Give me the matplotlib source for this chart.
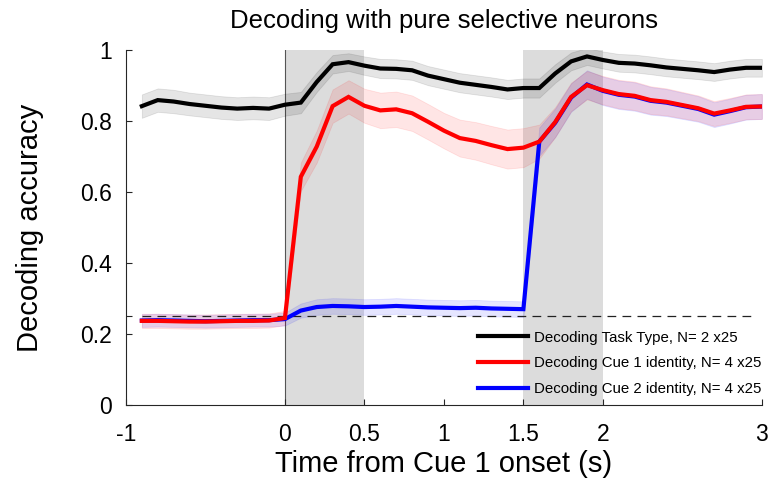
import matplotlib
matplotlib.use("Agg")
import matplotlib.pyplot as plt
import numpy as np

plt.rcParams['font.family'] = ['Liberation Sans', 'DejaVu Sans']

time_s = [-0.9, -0.8, -0.7, -0.6, -0.5, -0.4, -0.3, -0.2, -0.1, 0.0,
          0.1, 0.2, 0.3, 0.4, 0.5, 0.6, 0.7, 0.8, 0.9, 1.0,
          1.1, 1.2, 1.3, 1.4, 1.5, 1.6, 1.7, 1.8, 1.9, 2.0,
          2.1, 2.2, 2.3, 2.4, 2.5, 2.6, 2.7, 2.8, 2.9, 3.0]

task_type = [0.842, 0.859, 0.855, 0.848, 0.843, 0.838, 0.835, 0.837, 0.835, 0.846,
             0.852, 0.910, 0.960, 0.966, 0.956, 0.948, 0.947, 0.943, 0.928, 0.918,
             0.908, 0.902, 0.896, 0.889, 0.893, 0.893, 0.934, 0.968, 0.982, 0.972,
             0.964, 0.962, 0.957, 0.951, 0.947, 0.943, 0.938, 0.945, 0.950, 0.950]
task_sem = [0.033, 0.033, 0.033, 0.032, 0.032, 0.032, 0.032, 0.032, 0.032, 0.031,
            0.030, 0.028, 0.026, 0.025, 0.026, 0.027, 0.027, 0.027, 0.027, 0.027,
            0.027, 0.027, 0.027, 0.027, 0.027, 0.027, 0.026, 0.025, 0.024, 0.024,
            0.025, 0.025, 0.025, 0.025, 0.025, 0.025, 0.025, 0.025, 0.025, 0.025]

cue1 = [0.237, 0.237, 0.236, 0.235, 0.235, 0.236, 0.237, 0.237, 0.238, 0.245,
        0.643, 0.728, 0.842, 0.868, 0.843, 0.830, 0.833, 0.822, 0.798, 0.773,
        0.752, 0.744, 0.732, 0.721, 0.725, 0.742, 0.797, 0.868, 0.901, 0.887,
        0.876, 0.871, 0.859, 0.854, 0.845, 0.836, 0.821, 0.830, 0.840, 0.841]
cue1_sem = [0.020, 0.020, 0.020, 0.020, 0.020, 0.020, 0.020, 0.020, 0.020, 0.020,
            0.040, 0.045, 0.047, 0.047, 0.048, 0.050, 0.050, 0.050, 0.050, 0.050,
            0.052, 0.053, 0.054, 0.055, 0.055, 0.048, 0.042, 0.040, 0.040, 0.040,
            0.040, 0.040, 0.039, 0.038, 0.037, 0.036, 0.035, 0.035, 0.035, 0.035]

cue2 = [0.238, 0.239, 0.238, 0.237, 0.236, 0.237, 0.238, 0.239, 0.239, 0.242,
        0.266, 0.276, 0.279, 0.278, 0.276, 0.277, 0.279, 0.277, 0.275, 0.274,
        0.273, 0.274, 0.272, 0.271, 0.270, 0.742, 0.795, 0.866, 0.903, 0.885,
        0.874, 0.869, 0.857, 0.852, 0.843, 0.834, 0.818, 0.828, 0.839, 0.841]
cue2_sem = [0.018, 0.018, 0.018, 0.018, 0.018, 0.018, 0.018, 0.018, 0.018, 0.018,
            0.020, 0.022, 0.022, 0.022, 0.022, 0.022, 0.022, 0.022, 0.022, 0.022,
            0.022, 0.022, 0.022, 0.022, 0.022, 0.040, 0.040, 0.040, 0.040, 0.040,
            0.040, 0.040, 0.039, 0.038, 0.037, 0.036, 0.035, 0.035, 0.035, 0.035]

labels = ["Decoding Task Type, N= 2 x25",
          "Decoding Cue 1 identity, N= 4 x25",
          "Decoding Cue 2 identity, N= 4 x25"]
epochs = [(0.0, 0.5), (1.5, 2.0)]
chance = 0.25
xticks = [-1, 0, 0.5, 1, 1.5, 2, 3]
xticklabels = ["-1", "0", "0.5", "1", "1.5", "2", "3"]
yticks = [0, 0.2, 0.25, 0.4, 0.6, 0.8, 1]
yticklabels = ["0", "0.2", "", "0.4", "0.6", "0.8", "1"]

t = np.array(time_s)
fig = plt.figure(figsize=(7.68, 4.79), dpi=100)
ax = fig.add_axes([0.164, 0.1545, 0.828, 0.741])

for a, b in epochs:
    ax.axvspan(a, b, ymin=0, ymax=1, color='#dcdcdc', lw=0, zorder=0)
ax.plot([0, 0], [0, 1], color='#555555', lw=0.8, zorder=1)

series = [(cue2, cue2_sem, '#0000ff'), (cue1, cue1_sem, '#ff0000'), (task_type, task_sem, '#000000')]
for vals, sem, col in series:
    v = np.array(vals); s = np.array(sem)
    ax.fill_between(t, v - s, v + s, color=col, alpha=0.1, lw=0.6, zorder=2)

ax.plot([t[0], t[-1] - 0.06], [chance, chance], color='#222222', lw=0.9,
        dashes=(7, 5), zorder=3)

handles = {}
for (vals, sem, col), lab in zip(series, [labels[2], labels[1], labels[0]]):
    h, = ax.plot(t, vals, color=col, lw=3, zorder=4, solid_joinstyle='miter')
    handles[lab] = h

leg = ax.legend([handles[l] for l in labels], labels, loc='lower right',
                bbox_to_anchor=(1.0, 0.025), frameon=False, fontsize=10.8,
                handlelength=3.3, handletextpad=0.45, labelspacing=0.78,
                borderaxespad=0.0, borderpad=0.0)

ax.set_xlim(-1, 3)
ax.set_ylim(0, 1)
ax.set_xticks(xticks)
ax.set_xticklabels(xticklabels)
ax.set_yticks(yticks)
ax.set_yticklabels(yticklabels)
ax.tick_params(direction='in', length=4, width=0.8, labelsize=16.5, colors='#262626', labelcolor='black')
ax.tick_params(axis='x', pad=13)
ax.tick_params(axis='y', pad=10)
for sp in ['top', 'right']:
    ax.spines[sp].set_visible(False)
for sp in ['left', 'bottom']:
    ax.spines[sp].set_color('#262626')
    ax.spines[sp].set_linewidth(0.8)

ax.set_xlabel("Time from Cue 1 onset (s)", fontsize=21, labelpad=3)
ax.set_ylabel("Decoding accuracy", fontsize=21, labelpad=26)
ax.set_title("Decoding with pure selective neurons", fontsize=18.5, pad=16)

fig.savefig("out.png", dpi=100)
